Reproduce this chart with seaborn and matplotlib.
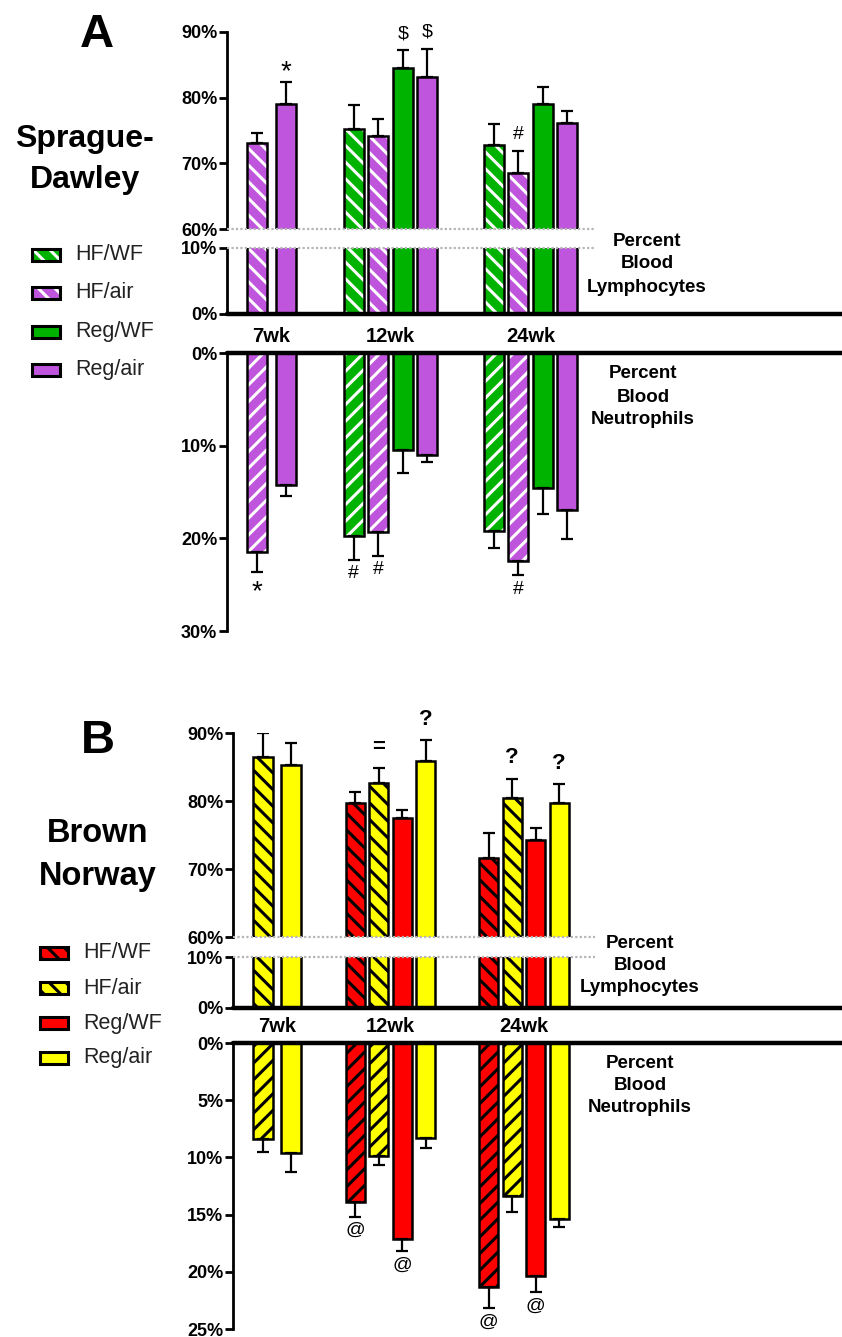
import numpy as np
import pandas as pd
import matplotlib
import matplotlib.pyplot as plt
import matplotlib.transforms as mtrans
from matplotlib.patches import Rectangle
import seaborn as sns

nan = np.nan
weeks = ['7wk', '12wk', '24wk']
series = ['HF/WF', 'HF/air', 'Reg/WF', 'Reg/air']

# rows follow `series`, columns follow `weeks` (nan = group not measured)
# Panel A - Sprague-Dawley
sd_lym = [[nan, 75.3, 72.8], [73.1, 74.1, 68.6], [nan, 84.5, 79.0], [79.1, 83.1, 76.2]]
sd_lym_err = [[nan, 3.6, 3.2], [1.5, 2.6, 3.3], [nan, 2.7, 2.7], [3.3, 4.3, 1.7]]
sd_neu = [[nan, 19.7, 19.2], [21.5, 19.3, 22.4], [nan, 10.5, 14.6], [14.2, 11.0, 16.9]]
sd_neu_err = [[nan, 2.6, 1.8], [2.1, 2.6, 1.6], [nan, 2.4, 2.8], [1.2, 0.8, 3.2]]
sd_lym_marks = [('7wk', 'Reg/air', '*'), ('12wk', 'Reg/WF', '$'), ('12wk', 'Reg/air', '$'), ('24wk', 'HF/air', '#')]
sd_neu_marks = [('7wk', 'HF/air', '*'), ('12wk', 'HF/WF', '#'), ('12wk', 'HF/air', '#'), ('24wk', 'HF/air', '#')]

# Panel B - Brown Norway
bn_lym = [[nan, 79.7, 71.6], [86.5, 82.6, 80.5], [nan, 77.5, 74.3], [85.3, 85.9, 79.7]]
bn_lym_err = [[nan, 1.6, 3.7], [3.5, 2.2, 2.8], [nan, 1.2, 1.7], [3.2, 3.0, 2.8]]
bn_neu = [[nan, 13.9, 21.3], [8.4, 9.9, 13.4], [nan, 17.1, 20.4], [9.6, 8.3, 15.4]]
bn_neu_err = [[nan, 1.3, 1.9], [1.1, 0.8, 1.4], [nan, 1.1, 1.4], [1.7, 0.9, 0.7]]
bn_lym_marks = [('12wk', 'HF/air', '='), ('12wk', 'Reg/air', '?'), ('24wk', 'HF/air', '?'), ('24wk', 'Reg/air', '?')]
bn_neu_marks = [('12wk', 'HF/WF', '@'), ('12wk', 'Reg/WF', '@'), ('24wk', 'HF/WF', '@'), ('24wk', 'Reg/WF', '@')]

sd_colors = ['#00B300', '#BE55DC', '#00B300', '#BE55DC']
bn_colors = ['#FF0000', '#FFFF00', '#FF0000', '#FFFF00']

sns.set_style('ticks')
plt.rcParams['font.family'] = ['Liberation Sans Narrow', 'Liberation Sans', 'DejaVu Sans']
plt.rcParams['hatch.linewidth'] = 2.2
for key in ['text.color', 'axes.labelcolor', 'xtick.color', 'ytick.color', 'axes.edgecolor']:
    plt.rcParams[key] = 'black'

W, H = 842, 1337
fig = plt.figure(figsize=(W / 100, H / 100), dpi=100)
SANS = ['Liberation Sans', 'DejaVu Sans']


def add_ax(x0, y0, y1):
    return fig.add_axes([x0 / W, 1 - y1 / H, (W - x0) / W, (y1 - y0) / H])


def build_df(means, errs, centers):
    rows = []
    for wi, w in enumerate(weeks):
        present = [si for si in range(len(series)) if not np.isnan(means[si][wi])]
        n = len(present)
        step = 1.0 if n == 4 else 1.2
        for k, si in enumerate(present):
            rows.append(dict(week=w, series=series[si], value=means[si][wi], err=errs[si][wi],
                             x=centers[wi] + (k - (n - 1) / 2) * step))
    return pd.DataFrame(rows)


def draw_bars(ax, df, colors, hatch, white_hatch):
    sns.barplot(data=df, x='x', y='value', hue='series', hue_order=series,
                palette=dict(zip(series, colors)), native_scale=True, dodge=False,
                width=0.82, errorbar=None, legend=False, saturation=1, edgecolor='black',
                linewidth=1.8, ax=ax)
    for p in list(ax.patches):
        cx = p.get_x() + p.get_width() / 2
        row = df.iloc[(df['x'] - cx).abs().argmin()]
        if not row['series'].startswith('HF'):
            continue
        p.set_hatch(hatch)
        if white_hatch:
            p.set_edgecolor('white')
            p.set_linewidth(0)
            ax.add_patch(Rectangle((p.get_x(), p.get_y()), p.get_width(), p.get_height(),
                                   fill=False, edgecolor='black', linewidth=1.8, zorder=p.get_zorder() + 0.1))


def style_axis(ax, ticks, xlim, ylim):
    ax.set_xlim(xlim)
    ax.set_ylim(ylim)
    ax.set_yticks(ticks)
    ax.set_yticklabels([f'{t}%' for t in ticks], fontweight='bold')
    ax.set_xticks([])
    ax.set_xlabel('')
    ax.set_ylabel('')
    for sp in ['top', 'right', 'bottom']:
        ax.spines[sp].set_visible(False)
    ax.spines['left'].set_linewidth(2)
    ax.tick_params(axis='y', direction='out', length=6, width=2, labelsize=13, pad=1)
    ax.patch.set_alpha(0)


def draw_errors(ax, df):
    ax.errorbar(df['x'], df['value'], yerr=[np.zeros(len(df)), df['err']], fmt='none',
                ecolor='black', elinewidth=1.6, capsize=4.5, capthick=1.6, zorder=3)


def draw_marks(ax, df, marks, dy):
    for w, s, sym in marks:
        r = df[(df['week'] == w) & (df['series'] == s)].iloc[0]
        bold = sym in '?='
        size, shift = (16 if bold else 14), 0
        if sym == '*':
            size, shift = 20, -5
        ax.annotate(sym, (r['x'], r['value'] + r['err']), xytext=(0, dy + shift), textcoords='offset points',
                    ha='center', va='center', fontsize=size,
                    fontweight='bold' if bold else 'normal', family=SANS, annotation_clip=False)


def side_text(x, ys, lines):
    for y, t in zip(ys, lines):
        fig.text(x / W, 1 - y / H, t, ha='center', va='center', fontsize=13.5, fontweight='bold')


def legend(x0, text_x, ys, colors, hatch, white_hatch):
    for s, c, y in zip(series, colors, ys):
        xy = (x0 / W, 1 - (y + 6) / H)
        w, h = 28 / W, 12 / H
        hf = s.startswith('HF')
        if hf and white_hatch:
            fig.add_artist(Rectangle(xy, w, h, transform=fig.transFigure, facecolor=c,
                                     edgecolor='white', linewidth=0, hatch=hatch))
            fig.add_artist(Rectangle(xy, w, h, transform=fig.transFigure, fill=False,
                                     edgecolor='black', linewidth=2.2))
        else:
            fig.add_artist(Rectangle(xy, w, h, transform=fig.transFigure, facecolor=c,
                                     edgecolor='black', linewidth=2.2, hatch=hatch if hf else None))
        fig.text(text_x / W, 1 - y / H, s, ha='left', va='center', fontsize=15.5,
                 family=SANS, color='#222222')


def panel(cfg, lym, lym_err, neu, neu_err, lym_marks, neu_marks, colors, white_hatch):
    spine, unit, c7 = cfg['spine'], cfg['unit'], cfg['c7']
    xlim = ((spine - c7) / unit, (W - c7) / unit)
    dot_frac = (595 - spine) / (W - spine)
    df_l = build_df(lym, lym_err, cfg['centers'])
    df_n = build_df(neu, neu_err, cfg['centers'])

    ax_hi = add_ax(spine, *cfg['hi'])
    draw_bars(ax_hi, df_l, colors, '\\\\', white_hatch)
    draw_errors(ax_hi, df_l)
    style_axis(ax_hi, [60, 70, 80, 90], xlim, (60, 90))
    draw_marks(ax_hi, df_l, lym_marks, cfg['up_dy'])
    ax_hi.axhline(60, xmax=dot_frac, color='#b5b5b5', lw=1.6, ls=(0, (1, 1)), zorder=6, clip_on=False)

    ax_lo = add_ax(spine, *cfg['lo'])
    draw_bars(ax_lo, df_l, colors, '\\\\', white_hatch)
    style_axis(ax_lo, [0, 10], xlim, (0, 10))
    ax_lo.axhline(10, xmax=dot_frac, color='#b5b5b5', lw=1.6, ls=(0, (1, 1)), zorder=6, clip_on=False)
    ax_lo.axhline(0, color='black', lw=3.2, zorder=6, clip_on=False)
    tr = mtrans.blended_transform_factory(ax_lo.transData, fig.transFigure)
    for c, w in zip(cfg['centers'], weeks):
        ax_lo.text(c, 1 - cfg['week_y'] / H, w, transform=tr, ha='center', va='center',
                   fontsize=14.5, fontweight='bold')

    ax_neu = add_ax(spine, *cfg['neu'])
    draw_bars(ax_neu, df_n, colors, '//', white_hatch)
    draw_errors(ax_neu, df_n)
    style_axis(ax_neu, cfg['neu_ticks'], xlim, (cfg['neu_ticks'][-1], 0))
    ax_neu.axhline(0, color='black', lw=3.2, zorder=6, clip_on=False)
    draw_marks(ax_neu, df_n, neu_marks, -10)


cfg_a = dict(spine=227, unit=24.5, c7=271.5, centers=[0, 4.86, 10.57], hi=(32, 229), lo=(248, 314),
             neu=(353, 631), neu_ticks=[0, 10, 20, 30], week_y=336, up_dy=12)
cfg_b = dict(spine=233, unit=23.5, c7=277, centers=[0, 4.83, 10.51], hi=(733, 937), lo=(957, 1008),
             neu=(1043, 1329), neu_ticks=[0, 5, 10, 15, 20, 25], week_y=1026, up_dy=15)

panel(cfg_a, sd_lym, sd_lym_err, sd_neu, sd_neu_err, sd_lym_marks, sd_neu_marks, sd_colors, True)
panel(cfg_b, bn_lym, bn_lym_err, bn_neu, bn_neu_err, bn_lym_marks, bn_neu_marks, bn_colors, False)

side_text(647, [241, 264, 288], ['Percent', 'Blood', 'Lymphocytes'])
side_text(643, [373, 397, 420], ['Percent', 'Blood', 'Neutrophils'])
side_text(640, [943, 966, 988], ['Percent', 'Blood', 'Lymphocytes'])
side_text(640, [1063, 1086, 1108], ['Percent', 'Blood', 'Neutrophils'])

legend(32, 75, [255, 293, 332, 370], sd_colors, '\\\\', True)
legend(40, 83, [953, 988, 1023, 1058], bn_colors, '\\\\', False)

fig.text(97 / W, 1 - 47 / H, 'A', ha='center', va='baseline', fontsize=34, fontweight='bold', family=SANS)
fig.text(84 / W, 1 - 147 / H, 'Sprague-', ha='center', va='baseline', fontsize=23, fontweight='bold', family=SANS)
fig.text(85 / W, 1 - 188 / H, 'Dawley', ha='center', va='baseline', fontsize=23, fontweight='bold', family=SANS)
fig.text(98 / W, 1 - 753 / H, 'B', ha='center', va='baseline', fontsize=34, fontweight='bold', family=SANS)
fig.text(98 / W, 1 - 842 / H, 'Brown', ha='center', va='baseline', fontsize=23.5, fontweight='bold', family=SANS)
fig.text(98 / W, 1 - 885 / H, 'Norway', ha='center', va='baseline', fontsize=23.5, fontweight='bold', family=SANS)

fig.savefig('out.png', dpi=100)
